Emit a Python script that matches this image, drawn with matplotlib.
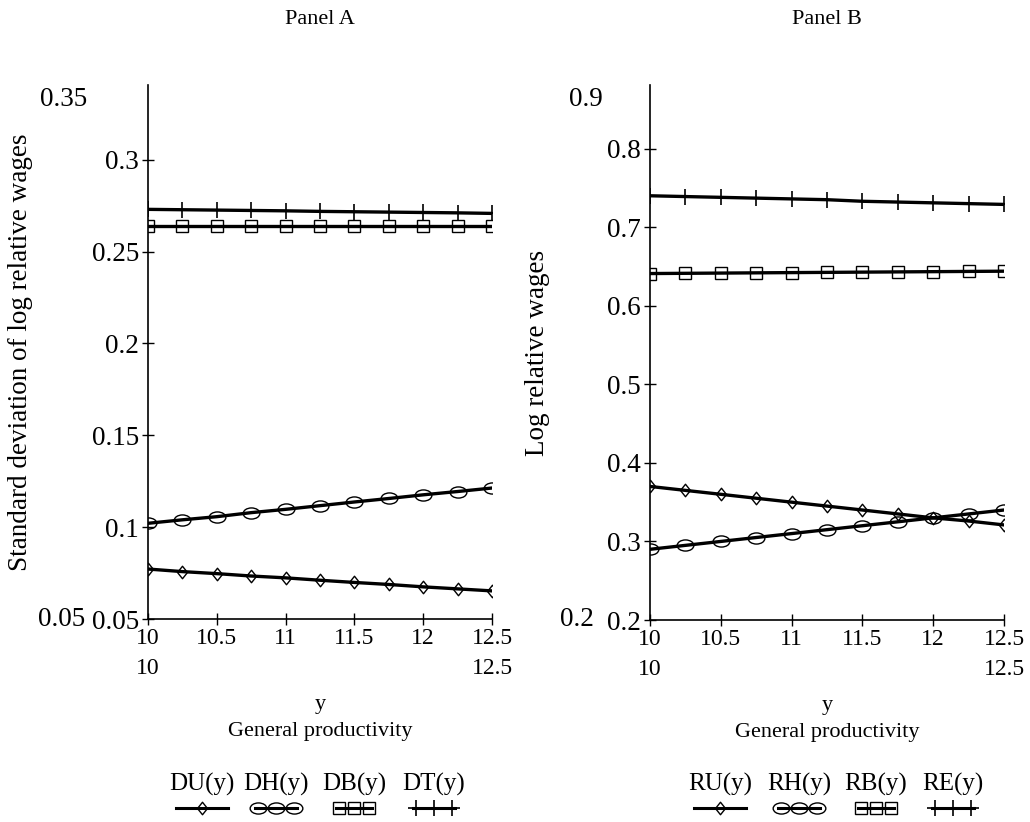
import matplotlib
matplotlib.use("Agg")
import matplotlib.pyplot as plt
from matplotlib.path import Path
from matplotlib.transforms import Affine2D

plt.rcParams['font.family'] = ['Liberation Serif', 'DejaVu Serif']

# data
y_prod = [10, 10.25, 10.5, 10.75, 11, 11.25, 11.5, 11.75, 12, 12.25, 12.5]

# Panel A: standard deviation of log relative wages
du = [0.0772, 0.0758, 0.0747, 0.0734, 0.0724, 0.0711, 0.0699, 0.0688, 0.0675, 0.0664, 0.0653]
dh = [0.1021, 0.1040, 0.1057, 0.1079, 0.1097, 0.1117, 0.1137, 0.1156, 0.1176, 0.1194, 0.1213]
db = [0.2640, 0.2640, 0.2640, 0.2640, 0.2640, 0.2640, 0.2640, 0.2640, 0.2640, 0.2640, 0.2640]
dt = [0.2730, 0.2728, 0.2726, 0.2724, 0.2722, 0.2719, 0.2717, 0.2715, 0.2713, 0.2711, 0.2708]

# Panel B: log relative wages
ru = [0.370, 0.365, 0.360, 0.355, 0.350, 0.345, 0.340, 0.335, 0.330, 0.326, 0.321]
rh = [0.290, 0.295, 0.300, 0.305, 0.310, 0.315, 0.320, 0.325, 0.330, 0.335, 0.340]
rb = [0.641, 0.6413, 0.6416, 0.6419, 0.6422, 0.6425, 0.6428, 0.6431, 0.6434, 0.6437, 0.644]
re = [0.740, 0.739, 0.738, 0.737, 0.736, 0.735, 0.733, 0.732, 0.731, 0.730, 0.729]

xticks = [10, 10.5, 11, 11.5, 12, 12.5]
xticklabels = ["10", "10.5", "11", "11.5", "12", "12.5"]
yticks_a = [0.05, 0.1, 0.15, 0.2, 0.25, 0.3]
yticklabels_a = ["0.05", "0.1", "0.15", "0.2", "0.25", "0.3"]
yticks_b = [0.2, 0.3, 0.4, 0.5, 0.6, 0.7, 0.8]
yticklabels_b = ["0.2", "0.3", "0.4", "0.5", "0.6", "0.7", "0.8"]

ellipse = Path.unit_circle().transformed(Affine2D().scale(1.5, 1.0))
diamond = Path([(0, 1), (0.8, 0), (0, -1), (-0.8, 0), (0, 1)],
               [Path.MOVETO, Path.LINETO, Path.LINETO, Path.LINETO, Path.CLOSEPOLY])

styles = [
    dict(marker=diamond, ms=9, mew=1.0),
    dict(marker=ellipse, ms=12, mew=1.0),
    dict(marker='s', ms=8, mew=1.0),
    dict(marker='+', ms=11, mew=1.2),
]

fig = plt.figure(figsize=(10.3, 8.22), dpi=100)
ax_a = fig.add_axes([148/1030, 1 - 619/822, 344/1030, 534/822])
ax_b = fig.add_axes([650/1030, 1 - 620/822, 354/1030, 535/822])

XFS = 17
YFS = 19.5


def setup(ax, yticks, ylabels, ylim, ylabel, title, top_label, outer_x, top_x):
    ax.set_xlim(10, 12.5)
    ax.set_ylim(*ylim)
    for s in ['top', 'right']:
        ax.spines[s].set_visible(False)
    for s in ['left', 'bottom']:
        ax.spines[s].set_linewidth(1.2)
    ax.set_xticks(xticks)
    ax.set_xticklabels(xticklabels, fontsize=XFS)
    ax.set_yticks(yticks)
    ax.set_yticklabels(ylabels, fontsize=YFS)
    ax.tick_params(direction='inout', length=9, width=1.0, pad=2)
    ax.set_xlabel("y\nGeneral productivity", fontsize=16, labelpad=33, linespacing=1.55)
    ax.set_ylabel(ylabel, fontsize=19.5)
    ax.set_title(title, fontsize=16, pad=44)
    # extra min/max labels
    tr = ax.get_xaxis_transform()
    ax.text(10, -0.092, "10", transform=tr, ha='center', va='center', fontsize=XFS)
    ax.text(12.5, -0.092, "12.5", transform=tr, ha='center', va='center', fontsize=XFS)
    ty = ax.get_yaxis_transform()
    ax.text(outer_x, ylim[0], ylabels[0], transform=ty,
            ha='right', va='center', fontsize=YFS)
    ax.text(top_x, 1.0 - 0.028, top_label,
            transform=ax.transAxes, ha='right', va='center', fontsize=YFS)


for vals, st in zip([du, dh, db, dt], styles):
    ax_a.plot(y_prod, vals, color='k', lw=2.4, mfc='none', mec='k', **st)
for vals, st in zip([ru, rh, rb, re], styles):
    ax_b.plot(y_prod, vals, color='k', lw=2.4, mfc='none', mec='k', **st)

setup(ax_a, yticks_a, yticklabels_a, (0.05, 0.3407),
      "Standard deviation of log relative wages", "Panel A", "0.35",
      (85 - 148) / 344, (87 - 148) / 344)
setup(ax_b, yticks_b, yticklabels_b, (0.2, 0.881),
      "Log relative wages", "Panel B", "0.9",
      (594 - 650) / 354, (603 - 650) / 354)
ax_a.yaxis.set_label_coords(-0.335, 0.5)
ax_b.yaxis.set_label_coords(-0.282, 0.5)

# legends drawn below each panel (label above line sample)
lax = fig.add_axes([0, 0, 1, 1])
lax.set_xlim(0, 1030)
lax.set_ylim(822, 0)
lax.axis('off')

legend_a = ["DU(y)", "DH(y)", "DB(y)", "DT(y)"]
legend_b = ["RU(y)", "RH(y)", "RB(y)", "RE(y)"]
centers_a = [202, 276, 354, 434]
centers_b = [720, 799, 876, 953]
half_w = [26, 21, 18, 21]

for labels, centers in [(legend_a, centers_a), (legend_b, centers_b)]:
    for i, (lab, cx) in enumerate(zip(labels, centers)):
        lax.text(cx, 784, lab, ha='center', va='center', fontsize=18)
        hw = half_w[i]
        lax.plot([cx - hw, cx + hw], [808, 808], color='k', lw=2.2)
        if i == 0:
            mx = [cx]
        else:
            mx = [cx - hw + 3, cx, cx + hw - 3]
        lax.plot(mx, [808] * len(mx), ls='none', color='k', mfc='none', mec='k', **styles[i])

fig.savefig("out.png", dpi=100)
